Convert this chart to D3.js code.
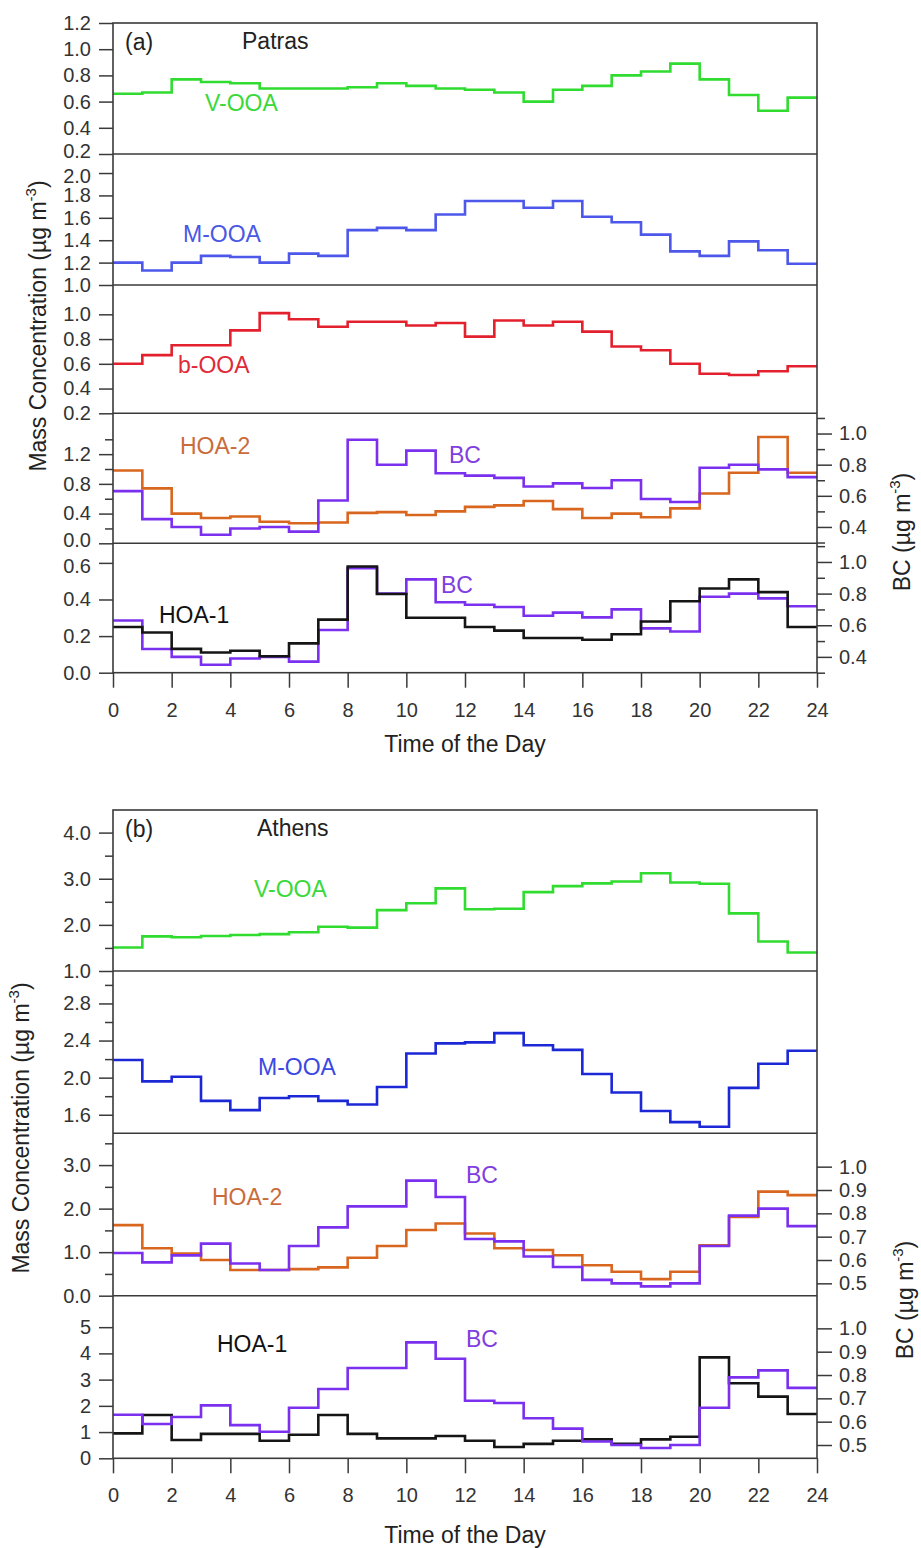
<!DOCTYPE html>
<html>
<head>
<meta charset="utf-8">
<script src="https://cdn.jsdelivr.net/npm/d3@7"></script>
<style>
  body { margin: 0; background: #fff; }
  svg text { font-family: "Liberation Sans", Arial, sans-serif; }
</style>
</head>
<body>
<svg id="chart" width="921" height="1548"></svg>
<script>
// hourly averages, hour 0..23, drawn as steps to 24
const hours = d3.range(24);
const hourTicks = d3.range(0, 25, 2);

// (a) Patras
const patrasVOOA = [0.66,0.67,0.77,0.75,0.74,0.70,0.70,0.70,0.71,0.74,0.72,0.70,0.69,0.67,0.60,0.69,0.72,0.80,0.83,0.89,0.77,0.65,0.53,0.63];
const patrasMOOA = [1.20,1.13,1.20,1.26,1.25,1.20,1.28,1.26,1.49,1.51,1.49,1.63,1.75,1.75,1.69,1.75,1.61,1.56,1.45,1.30,1.26,1.39,1.31,1.19];
const patrasBOOA = [0.60,0.67,0.75,0.75,0.87,1.01,0.96,0.90,0.94,0.94,0.91,0.93,0.82,0.95,0.91,0.94,0.86,0.74,0.71,0.60,0.52,0.51,0.54,0.58];
const patrasHOA2 = [0.98,0.74,0.40,0.34,0.36,0.29,0.27,0.28,0.41,0.42,0.38,0.43,0.49,0.51,0.57,0.46,0.34,0.40,0.35,0.47,0.67,0.95,1.43,0.95];
const patrasHOA1 = [0.25,0.22,0.13,0.11,0.12,0.09,0.16,0.29,0.58,0.43,0.30,0.30,0.25,0.23,0.19,0.19,0.18,0.21,0.28,0.39,0.46,0.51,0.44,0.25];
const patrasBC   = [0.63,0.45,0.40,0.35,0.39,0.40,0.37,0.57,0.96,0.80,0.89,0.745,0.73,0.715,0.66,0.68,0.65,0.70,0.58,0.56,0.78,0.80,0.77,0.72];

// (b) Athens
const athensVOOA = [1.51,1.75,1.73,1.76,1.78,1.80,1.84,1.96,1.94,2.32,2.47,2.79,2.34,2.35,2.71,2.84,2.90,2.94,3.12,2.92,2.89,2.25,1.64,1.40];
const athensMOOA = [2.19,1.96,2.01,1.75,1.65,1.78,1.80,1.75,1.71,1.90,2.26,2.37,2.38,2.48,2.35,2.30,2.04,1.84,1.64,1.52,1.47,1.89,2.15,2.29];
const athensHOA2 = [1.62,1.09,0.97,0.82,0.59,0.59,0.61,0.65,0.87,1.14,1.51,1.66,1.43,1.09,1.05,0.93,0.70,0.55,0.38,0.55,1.16,1.81,2.39,2.31];
const athensHOA1 = [0.95,1.65,0.70,0.93,0.93,0.67,0.90,1.65,0.93,0.76,0.76,0.85,0.67,0.43,0.55,0.67,0.72,0.55,0.72,0.82,3.85,2.86,2.35,1.69];
const athensBC   = [0.63,0.59,0.62,0.67,0.585,0.557,0.66,0.74,0.83,0.83,0.94,0.87,0.69,0.68,0.615,0.57,0.515,0.50,0.487,0.50,0.66,0.79,0.82,0.745];

// axis ticks
const pVOOATicks = [0.2,0.4,0.6,0.8,1.0,1.2];
const pMOOATicks = [1.0,1.2,1.4,1.6,1.8,2.0];
const pBOOATicks = [0.2,0.4,0.6,0.8,1.0];
const pHOA2Ticks = [0,0.4,0.8,1.2];
const pHOA2Minor = [0.2,0.6,1.0,1.4];
const pHOA1Ticks = [0,0.2,0.4,0.6];
const pBCTicks   = [0.4,0.6,0.8,1.0];
const pBCMinor   = [0.3,0.5,0.7,0.9,1.1];

const aVOOATicks = [1,2,3,4];
const aVOOAMinor = [1.5,2.5,3.5];
const aMOOATicks = [1.6,2.0,2.4,2.8];
const aMOOAMinor = [1.8,2.2,2.6,3.0];
const aHOA2Ticks = [0,1,2,3];
const aHOA2Minor = [0.5,1.5,2.5,3.5];
const aHOA1Ticks = [0,1,2,3,4,5];
const aBCTicks   = [0.5,0.6,0.7,0.8,0.9,1.0];

// colours
const cGreen = '#2fdc2f', cBlueA = '#4d57ea', cBlueB = '#1c27d6', cRed = '#e3202d',
      cOrange = '#d9661e', cPurple = '#7a30ee', cBlack = '#151515';

const svg = d3.select('#chart');
const x = d3.scaleLinear().domain([0, 24]).range([113, 817]);
const fmt1 = d3.format('.1f');
const fmt0 = d3.format('d');
const frameColor = '#3a3a3a';
const tickFont = 20, textFont = 23;

function stepPoints(vals) {
    const pts = vals.map((v, i) => [hours[i], v]);
    pts.push([24, vals[vals.length - 1]]);
    return pts;
}

function styleAxis(g) {
    g.select('.domain').remove();
    g.attr('font-size', tickFont).attr('font-family', '"Liberation Sans", Arial, sans-serif');
    g.selectAll('line').attr('stroke', frameColor).attr('stroke-width', 1.5);
    g.selectAll('text').attr('fill', '#333');
}

function drawPanel(p) {
    const y = d3.scaleLinear().domain(p.domain).range([p.y1, p.y0]);
    const g = svg.append('g');

    const left = g.append('g').attr('transform', `translate(${x(0)},0)`)
        .call(d3.axisLeft(y).tickValues(p.ticks).tickSize(14).tickPadding(8).tickFormat(p.fmt || fmt1))
        .call(styleAxis);
    // labels that sit on a panel border are nudged apart a little, as in the original
    if (p.nudge) {
        left.selectAll('.tick').filter(d => p.nudge[0] === d)
            .select('text').attr('y', p.nudge[1]);
    }
    if (p.minor) {
        g.append('g').attr('transform', `translate(${x(0)},0)`)
            .call(d3.axisLeft(y).tickValues(p.minor).tickSize(8).tickFormat(''))
            .call(styleAxis);
    }

    let yR = null;
    if (p.right) {
        yR = d3.scaleLinear().domain(p.right.domain).range([p.y1, p.y0]);
        g.append('g').attr('transform', `translate(${x(24)},0)`)
            .call(d3.axisRight(yR).tickValues(p.right.ticks).tickSize(15).tickPadding(7).tickFormat(fmt1))
            .call(styleAxis);
        if (p.right.minor) {
            g.append('g').attr('transform', `translate(${x(24)},0)`)
                .call(d3.axisRight(yR).tickValues(p.right.minor).tickSize(8).tickFormat(''))
                .call(styleAxis);
        }
    }

    p.series.forEach(s => {
        const sc = s.right ? yR : y;
        const line = d3.line().x(d => x(d[0])).y(d => sc(d[1])).curve(d3.curveStepAfter);
        g.append('path')
            .datum(stepPoints(s.vals))
            .attr('d', line)
            .attr('fill', 'none')
            .attr('stroke', s.color)
            .attr('stroke-width', 2.6)
            .attr('stroke-linejoin', 'miter');
    });

    p.labels.forEach(l => {
        g.append('text').attr('x', l.x).attr('y', l.y)
            .attr('font-size', textFont).attr('fill', l.color).text(l.text);
    });
}

function drawSite(site) {
    site.panels.forEach(drawPanel);
    const top = site.panels[0].y0;
    const bottom = site.panels[site.panels.length - 1].y1;

    // frame and separators
    svg.append('rect')
        .attr('x', x(0)).attr('y', top)
        .attr('width', x(24) - x(0)).attr('height', bottom - top)
        .attr('fill', 'none').attr('stroke', frameColor).attr('stroke-width', 1.6);
    site.panels.slice(1).forEach(p => {
        svg.append('line')
            .attr('x1', x(0)).attr('x2', x(24)).attr('y1', p.y0).attr('y2', p.y0)
            .attr('stroke', frameColor).attr('stroke-width', 1.6);
    });

    // x axis
    svg.append('g').attr('transform', `translate(0,${bottom})`)
        .call(d3.axisBottom(x).tickValues(hourTicks).tickSize(15).tickPadding(15).tickFormat(fmt0))
        .call(styleAxis);

    svg.append('text').attr('x', 465).attr('y', site.xTitleY)
        .attr('text-anchor', 'middle').attr('font-size', textFont).attr('fill', '#222')
        .text('Time of the Day');

    // panel tag and city name
    svg.append('text').attr('x', 125).attr('y', top + 27).attr('font-size', textFont).attr('fill', '#222').text(site.tag);
    svg.append('text').attr('x', site.cityX).attr('y', top + 26).attr('font-size', textFont).attr('fill', '#222').text(site.city);

    // rotated axis titles
    addUnitTitle(site.leftTitle.x, site.leftTitle.y, 'Mass Concentration (µg m');
    addUnitTitle(site.rightTitle.x, site.rightTitle.y, 'BC (µg m');
}

function addUnitTitle(tx, ty, main) {
    const t = svg.append('text')
        .attr('transform', `translate(${tx},${ty}) rotate(-90)`)
        .attr('text-anchor', 'middle').attr('font-size', textFont).attr('fill', '#222');
    t.append('tspan').text(main);
    t.append('tspan').attr('font-size', 15).attr('dy', -10).text('-3');
    t.append('tspan').attr('dy', 10).text(')');
}

const patras = {
    tag: '(a)', city: 'Patras', cityX: 242, xTitleY: 752,
    leftTitle: { x: 46, y: 326 }, rightTitle: { x: 910, y: 532 },
    panels: [
        { y0: 23, y1: 154, domain: [0.2, 1.2], ticks: pVOOATicks, nudge: [0.2, -3],
          series: [{ vals: patrasVOOA, color: cGreen }],
          labels: [{ text: 'V-OOA', x: 205, y: 111, color: '#3ad93a' }] },
        { y0: 154, y1: 285, domain: [1.0, 2.17], ticks: pMOOATicks, nudge: [2.0, 3],
          series: [{ vals: patrasMOOA, color: cBlueA }],
          labels: [{ text: 'M-OOA', x: 183, y: 242, color: '#4a58e4' }] },
        { y0: 285, y1: 413.3, domain: [0.2, 1.237], ticks: pBOOATicks,
          series: [{ vals: patrasBOOA, color: cRed }],
          labels: [{ text: 'b-OOA', x: 178, y: 373, color: '#e02a3a' }] },
        { y0: 413.3, y1: 543.3, domain: [0, 1.75], ticks: pHOA2Ticks, minor: pHOA2Minor, nudge: [0, -3],
          right: { domain: [0.295, 1.13], ticks: pBCTicks, minor: pBCMinor },
          series: [{ vals: patrasHOA2, color: cOrange }, { vals: patrasBC, color: cPurple, right: true }],
          labels: [{ text: 'HOA-2', x: 180, y: 454, color: '#c96c3c' },
                   { text: 'BC', x: 449, y: 463, color: '#7f3ee0' }] },
        { y0: 543.3, y1: 672.7, domain: [0, 0.707], ticks: pHOA1Ticks, nudge: [0.6, 3],
          right: { domain: [0.3, 1.118], ticks: pBCTicks, minor: pBCMinor },
          series: [{ vals: patrasBC, color: cPurple, right: true }, { vals: patrasHOA1, color: cBlack }],
          labels: [{ text: 'HOA-1', x: 159, y: 623, color: '#111' },
                   { text: 'BC', x: 441, y: 593, color: '#7f3ee0' }] }
    ]
};

const athens = {
    tag: '(b)', city: 'Athens', cityX: 257, xTitleY: 1543,
    leftTitle: { x: 29, y: 1128 }, rightTitle: { x: 913, y: 1300 },
    panels: [
        { y0: 810, y1: 971, domain: [1.0, 4.49], ticks: aVOOATicks, minor: aVOOAMinor,
          series: [{ vals: athensVOOA, color: cGreen }],
          labels: [{ text: 'V-OOA', x: 254, y: 897, color: '#3ad93a' }] },
        { y0: 971, y1: 1133.3, domain: [1.40, 3.15], ticks: aMOOATicks, minor: aMOOAMinor,
          series: [{ vals: athensMOOA, color: cBlueB }],
          labels: [{ text: 'M-OOA', x: 258, y: 1075, color: '#3a48e4' }] },
        { y0: 1133.3, y1: 1295.7, domain: [0, 3.73], ticks: aHOA2Ticks, minor: aHOA2Minor,
          right: { domain: [0.447, 1.143], ticks: aBCTicks },
          series: [{ vals: athensHOA2, color: cOrange }, { vals: athensBC, color: cPurple, right: true }],
          labels: [{ text: 'HOA-2', x: 212, y: 1205, color: '#c96c3c' },
                   { text: 'BC', x: 466, y: 1183, color: '#7f3ee0' }] },
        { y0: 1295.7, y1: 1458.3, domain: [0, 6.2], ticks: aHOA1Ticks, fmt: fmt0,
          right: { domain: [0.443, 1.14], ticks: aBCTicks },
          series: [{ vals: athensHOA1, color: cBlack }, { vals: athensBC, color: cPurple, right: true }],
          labels: [{ text: 'HOA-1', x: 217, y: 1352, color: '#111' },
                   { text: 'BC', x: 466, y: 1347, color: '#7f3ee0' }] }
    ]
};

drawSite(patras);
drawSite(athens);
</script>
</body>
</html>
